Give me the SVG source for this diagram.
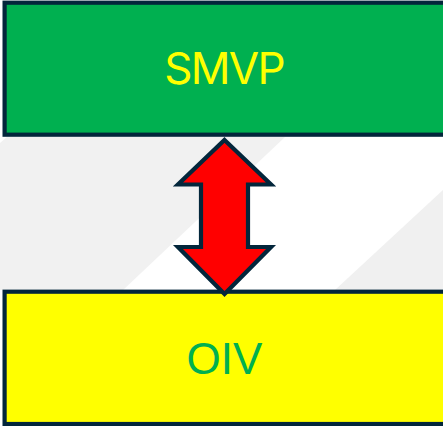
<svg xmlns="http://www.w3.org/2000/svg" width="443" height="426" viewBox="0 0 443 426">
  <style>
    .box { stroke: #03263b; stroke-width: 4.2; }
    .label { font-size: 44px; text-anchor: middle; }
  </style>
  <rect width="443" height="426" fill="#ffffff"/>
  <g id="background">
    <polygon points="0,143 7,137 285,137 123,290 0,290" fill="#f1f1f1"/>
    <polygon points="335,290 443,190 443,290" fill="#f0f0f0"/>
  </g>
  <g id="smvp">
    <rect class="box" x="4.6" y="2.7" width="442" height="132" fill="#00b050"/>
    <text class="label" x="224" y="84" fill="#ffff00" font-family="Inter, sans-serif" letter-spacing="-1.7">SMVP</text>
  </g>
  <g id="oiv">
    <rect class="box" x="4.6" y="291.7" width="442" height="132.300" fill="#ffff00"/>
    <text class="label" x="224.500" y="374" fill="#00b050" font-family="Liberation Sans, sans-serif">OIV</text>
  </g>
  <g id="connectors">
    <polygon id="double-arrow" points="224.500,140 271,184.500 248,184.500 248,247 271,247 224.500,294 178,247 201,247 201,184.500 178,184.500" fill="#ff0000" stroke="#03263b" stroke-width="4.200" stroke-miterlimit="10"/>
  </g>
</svg>
